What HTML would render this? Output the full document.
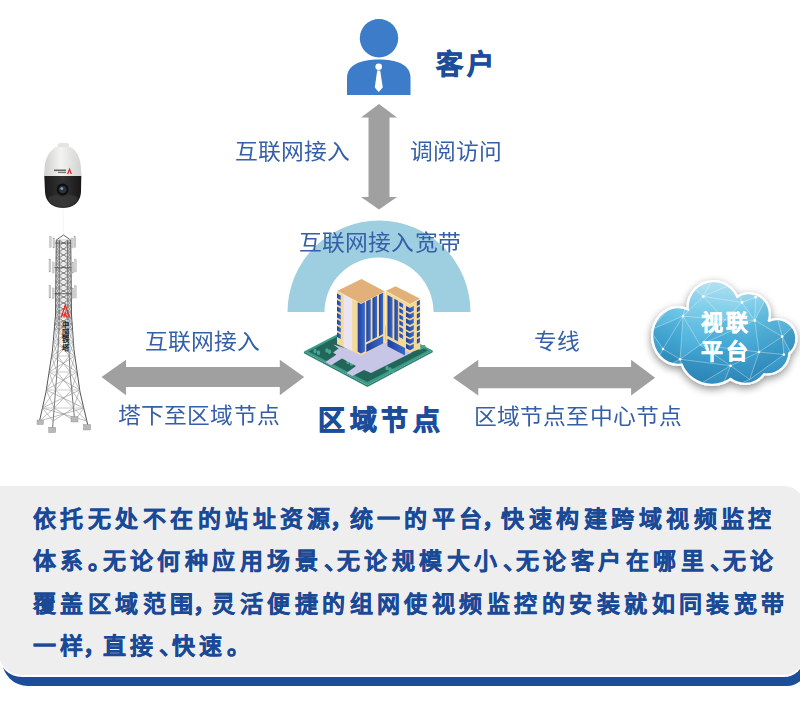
<!DOCTYPE html>
<html lang="zh-CN"><head><meta charset="utf-8">
<style>
html,body{margin:0;padding:0;background:#fff;}
body{width:800px;height:701px;position:relative;overflow:hidden;font-family:"Liberation Sans",sans-serif;}
.t{position:absolute;white-space:nowrap;line-height:1;}
.lt{font-size:21.5px;font-weight:300;color:#3560a9;letter-spacing:-0.2px;transform:scaleX(1.06);transform-origin:0 0;}
svg{position:absolute;left:0;top:0;}
.box{position:absolute;}
.p{letter-spacing:-8.4px;}
.c{letter-spacing:-3.9px;margin-left:-4.5px;}
.d{letter-spacing:-9.9px;margin-left:1.5px;}
.bt{position:absolute;left:33px;font-size:23px;font-weight:900;color:#1a4996;letter-spacing:4.45px;-webkit-text-stroke:0.35px #1a4996;line-height:1;white-space:nowrap;}
</style></head><body>

<!-- bottom box -->
<div class="box" style="left:2px;top:560px;width:805px;height:125.8px;background:#1b4e98;border-radius:0 20px 20px 26px;"></div>
<div class="box" style="left:-2px;top:486px;width:806px;height:191.4px;background:#fff;border-radius:0 20px 20px 24px;"></div>
<div class="box" style="left:-2px;top:486px;width:806px;height:189px;background:#eeeeef;border-radius:0 20px 20px 24px;"></div>

<svg width="800" height="701" viewBox="0 0 800 701">
  <!-- person -->
  <circle cx="379" cy="38.2" r="19.2" fill="#3d7cc8"/>
  <path d="M347,95 L347,78 C347,64 362,59.5 379,59.5 C396,59.5 410.5,64 410.5,78 L410.5,95 Z" fill="#3d7cc8"/>
  <circle cx="378.7" cy="66.8" r="3.3" fill="#fff"/>
  <path d="M377.2,70.5 L380.2,70.5 L382.8,87.5 L378.7,92 L374.8,87.5 Z" fill="#fff"/>

  <!-- vertical arrow -->
  <polygon points="379,104 397,117.5 389.5,117.5 389.5,197 397,197 379,209.5 361,197 368.5,197 368.5,117.5 361,117.5" fill="#a0a0a0"/>

  <!-- arc -->
  <path d="M287.5,312 A91.5,91.5 0 0 1 470.5,312 L433.5,312 A54.5,54.5 0 0 0 324.5,312 Z" fill="#9ecfe0"/>


  <!-- building plate -->
  <defs><linearGradient id="bs" x1="0" y1="0" x2="1" y2="0"><stop offset="0" stop-color="#1f3f9f"/><stop offset="1" stop-color="#3a6ccb"/></linearGradient></defs>
  <g id="bld">
  <polygon points="303.9,351.6 370,317.5 432.7,350.6 367.4,385.3" fill="#3c9b89"/>
  <polygon points="303.9,351.6 367.4,385.3 432.7,350.6 432.7,352.2 367.4,387 303.9,353.2" fill="#2f7f70"/>
  <polygon points="308.5,351.6 370,320 428,350.6 367.4,382" fill="#22665a"/>
  <!-- shrubs -->
  <g fill="#48a690"><ellipse cx="315.0" cy="351.0" rx="1.7" ry="2.2"/><ellipse cx="318.5" cy="352.8" rx="1.7" ry="2.2"/><ellipse cx="327.0" cy="350.5" rx="1.7" ry="2.2"/><ellipse cx="329.5" cy="351.8" rx="1.7" ry="2.2"/><ellipse cx="348.0" cy="362.0" rx="1.7" ry="2.2"/><ellipse cx="351.5" cy="363.8" rx="1.7" ry="2.2"/><ellipse cx="387.0" cy="368.0" rx="1.7" ry="2.2"/><ellipse cx="390.0" cy="369.5" rx="1.7" ry="2.2"/><ellipse cx="393.0" cy="371.0" rx="1.7" ry="2.2"/></g>
  <g fill="#48a690"><ellipse cx="420.0" cy="348.5" rx="1.5" ry="1.8"/><ellipse cx="422.0" cy="347.5" rx="1.5" ry="1.8"/><ellipse cx="424.0" cy="346.5" rx="1.5" ry="1.8"/></g>
  <!-- lavender walkway -->
  <polygon points="333.2,344.5 338.5,348.6 333.2,352.5 336.3,354.7 325.4,362.1 331,365.2 342,358.6 356,366 346.4,373 352.5,376.1 364,370 371,373 406,355.5 412,352.5 386,341 361,353" fill="#c8c6e6"/>
  <!-- building A -->
  <polygon points="337,291 361,304 361,355.5 337,344" fill="#f4d998"/>
  <polygon points="361,304 385,291.5 385,343 361,355.5" fill="#f4d998"/>
  <polygon points="337,291 361.5,279 385,291.5 361,304" fill="#e2b079"/>
  <polyline points="337,291 361,304 385,291.5" fill="none" stroke="#fbefb8" stroke-width="0.8"/>
  <!-- A left face: lavender panel -->
  <polygon points="343.6,294.5 352.2,299.2 352.2,351 343.6,347" fill="#ece5f1"/>
  <!-- A left windows -->
  <g fill="url(#bs)">
    <polygon points="337,293.5 340.8,295.5 340.8,300 337,298"/>
    <polygon points="337,300 340.8,302 340.8,306.5 337,304.5"/>
    <polygon points="337,306.5 340.8,308.5 340.8,313 337,311"/>
    <polygon points="337,313 340.8,315 340.8,319.5 337,317.5"/>
    <polygon points="337,319.5 340.8,321.5 340.8,326 337,324"/>
    <polygon points="337,326 340.8,328 340.8,332.5 337,330.5"/>
    <polygon points="337,332.5 340.8,334.5 340.8,339 337,337"/>
  </g>
  <!-- A corner blue column -->
  <polygon points="357.7,302.2 361,304 364.9,302 364.9,351.5 361,353.5 357.7,351.8" fill="url(#bs)"/>
  <!-- A right face stripes -->
  <g fill="url(#bs)">
    <polygon points="366.3,301.2 370.7,299 370.7,340 366.3,342.2"/>
    <polygon points="372.5,298 377,295.8 377,337 372.5,339.2"/>
    <polygon points="379,294.8 383.1,292.6 383.1,334 379,336.2"/>
    <polygon points="366.3,344.5 383.1,336 383.1,343.5 366.3,352"/>
  </g>
  <!-- building B -->
  <polygon points="385.6,291 410,304.4 410,352.8 385.6,341.5" fill="#f4d998"/>
  <polygon points="410,304.4 420.3,298.8 420.3,348.8 410,352.8" fill="#f4d998"/>
  <polygon points="385.6,291 395.6,286.2 420.3,298.8 410,304.4" fill="#e2b079"/>
  <polyline points="385.6,291 410,304.4 420.3,298.8" fill="none" stroke="#fbefb8" stroke-width="0.8"/>
  <line x1="385.3" y1="291" x2="385.3" y2="343" stroke="#fbefb8" stroke-width="0.8"/>
  <g fill="url(#bs)">
    <polygon points="387.5,295 392.5,297.7 392.5,338.5 387.5,335.8"/>
    <polygon points="394.4,298.7 398.1,300.7 398.1,341.5 394.4,339.5"/>
    <polygon points="387.5,338.8 405,348 405,355.5 387.5,346.3"/>
  </g>
  <g fill="url(#bs)">
    <polygon points="399.4,302 403.1,304 403.1,308 399.4,306"/>
    <polygon points="399.4,308.2 403.1,310.2 403.1,314.2 399.4,312.2"/>
    <polygon points="399.4,314.4 403.1,316.4 403.1,320.4 399.4,318.4"/>
    <polygon points="399.4,320.6 403.1,322.6 403.1,326.6 399.4,324.6"/>
    <polygon points="399.4,326.8 403.1,328.8 403.1,332.8 399.4,330.8"/>
    <polygon points="399.4,333 403.1,335 403.1,339 399.4,337"/>
    <polygon points="406,306 410,308 413.8,306 413.8,310.5 410,312.5 406,310.5"/>
    <polygon points="406,312.3 410,314.3 413.8,312.3 413.8,316.8 410,318.8 406,316.8"/>
    <polygon points="406,318.6 410,320.6 413.8,318.6 413.8,323.1 410,325.1 406,323.1"/>
    <polygon points="406,324.9 410,326.9 413.8,324.9 413.8,329.4 410,331.4 406,329.4"/>
    <polygon points="406,331.2 410,333.2 413.8,331.2 413.8,335.7 410,337.7 406,335.7"/>
    <polygon points="406,337.5 410,339.5 413.8,337.5 413.8,342 410,344 406,342"/>
    <polygon points="406,343.8 410,345.8 413.8,343.8 413.8,348.3 410,350.3 406,348.3"/>
    <polygon points="416.9,301.5 420,300 420,304.5 416.9,306"/>
    <polygon points="416.9,307.8 420,306.3 420,310.8 416.9,312.3"/>
    <polygon points="416.9,314.1 420,312.6 420,317.1 416.9,318.6"/>
    <polygon points="416.9,320.4 420,318.9 420,323.4 416.9,324.9"/>
    <polygon points="416.9,326.7 420,325.2 420,329.7 416.9,331.2"/>
    <polygon points="416.9,333 420,331.5 420,336 416.9,337.5"/>
    <polygon points="416.9,339.3 420,337.8 420,342.3 416.9,343.8"/>
  </g>
  </g>

  <!-- cloud -->
  <defs>
    <linearGradient id="cg" gradientUnits="userSpaceOnUse" x1="725" y1="280" x2="715" y2="388">
      <stop offset="0" stop-color="#acdef0"/>
      <stop offset="0.3" stop-color="#6cc7e7"/>
      <stop offset="0.6" stop-color="#48afdc"/>
      <stop offset="1" stop-color="#3390c0"/>
    </linearGradient>
    <radialGradient id="cg2" gradientUnits="userSpaceOnUse" cx="715" cy="320" r="90">
      <stop offset="0.4" stop-color="#0a4f80" stop-opacity="0"/>
      <stop offset="1" stop-color="#0a4f80" stop-opacity="0.2"/>
    </radialGradient>
    <filter id="sh" x="-20%" y="-20%" width="140%" height="140%">
      <feGaussianBlur in="SourceAlpha" stdDeviation="4"/>
      <feOffset dx="0" dy="3"/>
      <feComponentTransfer><feFuncA type="linear" slope="0.45"/></feComponentTransfer>
      <feMerge><feMergeNode/><feMergeNode in="SourceGraphic"/></feMerge>
    </filter>
    <clipPath id="cclip">
      <ellipse cx="678" cy="336" rx="24.7" ry="27.7"/>
      <circle cx="713.5" cy="307" r="24.7"/>
      <circle cx="749" cy="314" r="19.7"/>
      <circle cx="777" cy="338.5" r="18.2"/>
      <circle cx="767" cy="352" r="21.2"/>
      <circle cx="745" cy="360" r="22.7"/>
      <circle cx="712" cy="352" r="31.7"/>
      
      <circle cx="730" cy="330" r="27.7"/><circle cx="760" cy="330" r="11.7"/>
    </clipPath>
  </defs>
  <g filter="url(#sh)">
    <g fill="#fff">
      <ellipse cx="678" cy="336" rx="27" ry="30"/>
      <circle cx="713.5" cy="307" r="27"/>
      <circle cx="749" cy="314" r="22"/>
      <circle cx="777" cy="338.5" r="20.5"/>
      <circle cx="767" cy="352" r="23.5"/>
      <circle cx="745" cy="360" r="25"/>
      <circle cx="712" cy="352" r="34"/>
      
      <circle cx="730" cy="330" r="30"/><circle cx="760" cy="330" r="14"/>
    </g>
  </g>
  <g clip-path="url(#cclip)">
    <rect x="640" y="270" width="170" height="130" fill="url(#cg)"/>
    <rect x="640" y="270" width="170" height="130" fill="url(#cg2)"/>
    <polygon points="703.2,296.4 683,316.1 725,320" fill="#ffffff" fill-opacity="0.1"/>
    <polygon points="683,316.1 663,349 680.1,359.25" fill="#0e5f8f" fill-opacity="0.12"/>
    <polygon points="683,316.1 680.1,359.25 700,345" fill="#ffffff" fill-opacity="0.05"/>
    <polygon points="683,316.1 725,320 700,345" fill="#ffffff" fill-opacity="0.07"/>
    <polygon points="703.2,296.4 742,302.4 725,320" fill="#ffffff" fill-opacity="0.12"/>
    <polygon points="742,302.4 754.8,320.4 725,320" fill="#ffffff" fill-opacity="0.06"/>
    <polygon points="725,320 754.8,320.4 700,345" fill="#0e5f8f" fill-opacity="0.04"/>
    <polygon points="700,345 754.8,320.4 759,352" fill="#0e5f8f" fill-opacity="0.08"/>
    <polygon points="700,345 759,352 730.6,365.75" fill="#0e5f8f" fill-opacity="0.12"/>
    <polygon points="680.1,359.25 700,345 730.6,365.75" fill="#0e5f8f" fill-opacity="0.1"/>
    <polygon points="663,349 650,330 683,316.1" fill="#0e5f8f" fill-opacity="0.1"/>
    <polygon points="663,349 650,375 680.1,359.25" fill="#0e5f8f" fill-opacity="0.22"/>
    <polygon points="680.1,359.25 690,390 730.6,365.75" fill="#0e5f8f" fill-opacity="0.16"/>
    <polygon points="730.6,365.75 749.7,379.45 720,392" fill="#0e5f8f" fill-opacity="0.14"/>
    <polygon points="730.6,365.75 759,352 749.7,379.45" fill="#0e5f8f" fill-opacity="0.08"/>
    <polygon points="759,352 783.9,354.6 749.7,379.45" fill="#0e5f8f" fill-opacity="0.18"/>
    <polygon points="754.8,320.4 782.2,336.6 759,352" fill="#0e5f8f" fill-opacity="0.12"/>
    <polygon points="782.2,336.6 783.9,354.6 759,352" fill="#0e5f8f" fill-opacity="0.16"/>
    <polygon points="782.2,336.6 800,320 800,370" fill="#0e5f8f" fill-opacity="0.2"/>
    <polygon points="755.65,297.25 770,290 754.8,320.4" fill="#ffffff" fill-opacity="0.05"/>
    <polygon points="754.8,320.4 770,290 782.2,336.6" fill="#0e5f8f" fill-opacity="0.08"/>
    <polygon points="703.2,296.4 713,279 690,285" fill="#ffffff" fill-opacity="0.18"/>
    <polygon points="703.2,296.4 713,279 735,283" fill="#ffffff" fill-opacity="0.15"/>
    <polygon points="703.2,296.4 735,283 742,302.4" fill="#ffffff" fill-opacity="0.1"/>
    <polygon points="742,302.4 735,283 755.65,297.25" fill="#ffffff" fill-opacity="0.08"/>
    <polygon points="690,285 683,316.1 703.2,296.4" fill="#ffffff" fill-opacity="0.08"/>
    <polygon points="683,316.1 650,330 690,285" fill="#ffffff" fill-opacity="0.03"/>
    <g stroke="#ffffff" stroke-opacity="0.5" stroke-width="0.7">
      <line x1="703.2" y1="296.4" x2="683" y2="316.1"/>
      <line x1="703.2" y1="296.4" x2="742" y2="302.4"/>
      <line x1="703.2" y1="296.4" x2="713" y2="279"/>
      <line x1="703.2" y1="296.4" x2="690" y2="285"/>
      <line x1="703.2" y1="296.4" x2="725" y2="320"/>
      <line x1="703.2" y1="296.4" x2="735" y2="283"/>
      <line x1="683" y1="316.1" x2="663" y2="349"/>
      <line x1="683" y1="316.1" x2="680.1" y2="359.25"/>
      <line x1="683" y1="316.1" x2="690" y2="285"/>
      <line x1="683" y1="316.1" x2="650" y2="330"/>
      <line x1="683" y1="316.1" x2="700" y2="345"/>
      <line x1="683" y1="316.1" x2="725" y2="320"/>
      <line x1="663" y1="349" x2="680.1" y2="359.25"/>
      <line x1="663" y1="349" x2="650" y2="330"/>
      <line x1="663" y1="349" x2="650" y2="375"/>
      <line x1="680.1" y1="359.25" x2="730.6" y2="365.75"/>
      <line x1="680.1" y1="359.25" x2="700" y2="345"/>
      <line x1="680.1" y1="359.25" x2="690" y2="390"/>
      <line x1="680.1" y1="359.25" x2="650" y2="375"/>
      <line x1="730.6" y1="365.75" x2="759" y2="352"/>
      <line x1="730.6" y1="365.75" x2="749.7" y2="379.45"/>
      <line x1="730.6" y1="365.75" x2="700" y2="345"/>
      <line x1="730.6" y1="365.75" x2="690" y2="390"/>
      <line x1="730.6" y1="365.75" x2="720" y2="392"/>
      <line x1="742" y1="302.4" x2="755.65" y2="297.25"/>
      <line x1="742" y1="302.4" x2="754.8" y2="320.4"/>
      <line x1="742" y1="302.4" x2="725" y2="320"/>
      <line x1="742" y1="302.4" x2="735" y2="283"/>
      <line x1="755.65" y1="297.25" x2="754.8" y2="320.4"/>
      <line x1="755.65" y1="297.25" x2="735" y2="283"/>
      <line x1="755.65" y1="297.25" x2="770" y2="290"/>
      <line x1="754.8" y1="320.4" x2="782.2" y2="336.6"/>
      <line x1="754.8" y1="320.4" x2="759" y2="352"/>
      <line x1="754.8" y1="320.4" x2="700" y2="345"/>
      <line x1="754.8" y1="320.4" x2="725" y2="320"/>
      <line x1="754.8" y1="320.4" x2="770" y2="290"/>
      <line x1="782.2" y1="336.6" x2="759" y2="352"/>
      <line x1="782.2" y1="336.6" x2="783.9" y2="354.6"/>
      <line x1="782.2" y1="336.6" x2="800" y2="320"/>
      <line x1="782.2" y1="336.6" x2="770" y2="290"/>
      <line x1="782.2" y1="336.6" x2="800" y2="370"/>
      <line x1="759" y1="352" x2="783.9" y2="354.6"/>
      <line x1="759" y1="352" x2="749.7" y2="379.45"/>
      <line x1="759" y1="352" x2="700" y2="345"/>
      <line x1="783.9" y1="354.6" x2="749.7" y2="379.45"/>
      <line x1="749.7" y1="379.45" x2="720" y2="392"/>
      <line x1="713" y1="279" x2="690" y2="285"/>
      <line x1="713" y1="279" x2="735" y2="283"/>
      <line x1="690" y1="285" x2="650" y2="330"/>
      <line x1="700" y1="345" x2="725" y2="320"/>
      <line x1="800" y1="320" x2="800" y2="370"/>
    </g>
    <g fill="#fff">
      <circle cx="703.2" cy="296.4" r="1.3"/>
      <circle cx="683" cy="316.1" r="1.3"/>
      <circle cx="663" cy="349" r="1.3"/>
      <circle cx="680.1" cy="359.25" r="1.3"/>
      <circle cx="730.6" cy="365.75" r="1.3"/>
      <circle cx="742" cy="302.4" r="1.3"/>
      <circle cx="755.65" cy="297.25" r="1.3"/>
      <circle cx="754.8" cy="320.4" r="1.3"/>
      <circle cx="782.2" cy="336.6" r="1.3"/>
      <circle cx="759" cy="352" r="1.3"/>
      <circle cx="783.9" cy="354.6" r="1.3"/>
    </g>
  </g>
  <!-- camera -->
  <defs>
    <linearGradient id="dome" x1="0" y1="0" x2="1" y2="0">
      <stop offset="0" stop-color="#cfcfcd"/>
      <stop offset="0.45" stop-color="#f3f3f1"/>
      <stop offset="1" stop-color="#d2d2d0"/>
    </linearGradient>
    <linearGradient id="blk" x1="0" y1="0" x2="1" y2="0">
      <stop offset="0" stop-color="#1b1b1b"/>
      <stop offset="0.5" stop-color="#333"/>
      <stop offset="1" stop-color="#181818"/>
    </linearGradient>
  </defs>
  <path d="M57.5,147.5 L57.5,145 Q58,143 61,143 L66,143 Q69,143 69,145 L69,147.5 Z" fill="#e4e4e2"/>
  <path d="M56,147 L70.5,147 C75.5,149.5 80,157 80.8,166 L81.5,176.3 L44,176.3 L44.7,166 C45.5,157 51,149.5 56,147 Z" fill="url(#dome)"/>
  <path d="M44.3,176 L81.3,176 L81,192 C80.5,200 76,205 70,207 Q63,209 56,207 C50,205 45.5,200 45,192 Z" fill="url(#blk)"/>
  <path d="M48,198 C52,193 74,193 78,198 C77,203 72,206 63,206.5 C54,206 49,203 48,198 Z" fill="#3a3a3a" opacity="0.7"/>
  <circle cx="62.6" cy="189.5" r="7.5" fill="#2e2e2e"/>
  <circle cx="62.6" cy="189.5" r="6" fill="#0e0e0e"/>
  <circle cx="62.6" cy="189.5" r="3.8" fill="#2a3440"/>
  <circle cx="61.8" cy="188.6" r="1.4" fill="#8aa"/>
  <rect x="54" y="169.5" width="12" height="1.6" fill="#666"/>
  <rect x="58" y="171.8" width="8" height="1.3" fill="#777"/>
  <path d="M67,174 L69.5,167.5 L72,174 L70.6,174 L69.5,171 L68.4,174 Z" fill="#d83030"/>
  <line x1="63" y1="208" x2="63.5" y2="235" stroke="#efefef" stroke-width="0.6"/>
  <!-- tower -->
  <g id="tower">
<path d="M56.3,240.0 L55.5,315.0 L52.5,350.0 L46.0,392.0 L39.5,421.0" stroke="#555" stroke-width="1" fill="none" stroke-linejoin="round"/>
<path d="M70.7,240.0 L71.5,315.0 L74.0,350.0 L80.0,392.0 L88.0,426.0" stroke="#555" stroke-width="1" fill="none" stroke-linejoin="round"/>
<path d="M59.5,240.0 L59.0,330.0 L57.0,372.0 L52.5,429.0" stroke="#777" stroke-width="1" fill="none" stroke-linejoin="round"/>
<path d="M67.5,240.0 L68.0,330.0 L70.0,372.0 L74.5,419.0" stroke="#777" stroke-width="1" fill="none" stroke-linejoin="round"/>
<path d="M56.3,240 L63.5,235 L70.7,240" stroke="#555" stroke-width="0.9" fill="none"/>
<path d="M56.3,240 L70.8,246 M70.7,240 L56.2,246" stroke="#6a6a6a" stroke-width="0.6" fill="none"/>
<path d="M59.5,240 L67.5,246 M67.5,240 L59.5,246" stroke="#6a6a6a" stroke-width="0.6" fill="none"/>
<path d="M56.3,240 L59.5,246 M59.5,240 L56.2,246" stroke="#6a6a6a" stroke-width="0.6" fill="none"/>
<path d="M67.5,240 L70.8,246 M70.7,240 L67.5,246" stroke="#6a6a6a" stroke-width="0.6" fill="none"/>
<path d="M56.3,240 L70.7,240" stroke="#999" stroke-width="0.5"/>
<path d="M56.2,246 L70.8,252 M70.8,246 L56.2,252" stroke="#6a6a6a" stroke-width="0.6" fill="none"/>
<path d="M59.5,246 L67.6,252 M67.5,246 L59.4,252" stroke="#6a6a6a" stroke-width="0.6" fill="none"/>
<path d="M56.2,246 L59.4,252 M59.5,246 L56.2,252" stroke="#6a6a6a" stroke-width="0.6" fill="none"/>
<path d="M67.5,246 L70.8,252 M70.8,246 L67.6,252" stroke="#6a6a6a" stroke-width="0.6" fill="none"/>
<path d="M56.2,246 L70.8,246" stroke="#999" stroke-width="0.5"/>
<path d="M56.2,252 L70.9,258 M70.8,252 L56.1,258" stroke="#6a6a6a" stroke-width="0.6" fill="none"/>
<path d="M59.4,252 L67.6,258 M67.6,252 L59.4,258" stroke="#6a6a6a" stroke-width="0.6" fill="none"/>
<path d="M56.2,252 L59.4,258 M59.4,252 L56.1,258" stroke="#6a6a6a" stroke-width="0.6" fill="none"/>
<path d="M67.6,252 L70.9,258 M70.8,252 L67.6,258" stroke="#6a6a6a" stroke-width="0.6" fill="none"/>
<path d="M56.2,252 L70.8,252" stroke="#999" stroke-width="0.5"/>
<path d="M56.1,258 L71.0,264 M70.9,258 L56.0,264" stroke="#6a6a6a" stroke-width="0.6" fill="none"/>
<path d="M59.4,258 L67.6,264 M67.6,258 L59.4,264" stroke="#6a6a6a" stroke-width="0.6" fill="none"/>
<path d="M56.1,258 L59.4,264 M59.4,258 L56.0,264" stroke="#6a6a6a" stroke-width="0.6" fill="none"/>
<path d="M67.6,258 L71.0,264 M70.9,258 L67.6,264" stroke="#6a6a6a" stroke-width="0.6" fill="none"/>
<path d="M56.1,258 L70.9,258" stroke="#999" stroke-width="0.5"/>
<path d="M56.0,264 L71.0,270 M71.0,264 L56.0,270" stroke="#6a6a6a" stroke-width="0.6" fill="none"/>
<path d="M59.4,264 L67.7,270 M67.6,264 L59.3,270" stroke="#6a6a6a" stroke-width="0.6" fill="none"/>
<path d="M56.0,264 L59.3,270 M59.4,264 L56.0,270" stroke="#6a6a6a" stroke-width="0.6" fill="none"/>
<path d="M67.6,264 L71.0,270 M71.0,264 L67.7,270" stroke="#6a6a6a" stroke-width="0.6" fill="none"/>
<path d="M56.0,264 L71.0,264" stroke="#999" stroke-width="0.5"/>
<path d="M56.0,270 L71.1,276 M71.0,270 L55.9,276" stroke="#6a6a6a" stroke-width="0.6" fill="none"/>
<path d="M59.3,270 L67.7,276 M67.7,270 L59.3,276" stroke="#6a6a6a" stroke-width="0.6" fill="none"/>
<path d="M56.0,270 L59.3,276 M59.3,270 L55.9,276" stroke="#6a6a6a" stroke-width="0.6" fill="none"/>
<path d="M67.7,270 L71.1,276 M71.0,270 L67.7,276" stroke="#6a6a6a" stroke-width="0.6" fill="none"/>
<path d="M56.0,270 L71.0,270" stroke="#999" stroke-width="0.5"/>
<path d="M55.9,276 L71.1,282 M71.1,276 L55.9,282" stroke="#6a6a6a" stroke-width="0.6" fill="none"/>
<path d="M59.3,276 L67.7,282 M67.7,276 L59.3,282" stroke="#6a6a6a" stroke-width="0.6" fill="none"/>
<path d="M55.9,276 L59.3,282 M59.3,276 L55.9,282" stroke="#6a6a6a" stroke-width="0.6" fill="none"/>
<path d="M67.7,276 L71.1,282 M71.1,276 L67.7,282" stroke="#6a6a6a" stroke-width="0.6" fill="none"/>
<path d="M55.9,276 L71.1,276" stroke="#999" stroke-width="0.5"/>
<path d="M55.9,282 L71.2,288 M71.1,282 L55.8,288" stroke="#6a6a6a" stroke-width="0.6" fill="none"/>
<path d="M59.3,282 L67.8,288 M67.7,282 L59.2,288" stroke="#6a6a6a" stroke-width="0.6" fill="none"/>
<path d="M55.9,282 L59.2,288 M59.3,282 L55.8,288" stroke="#6a6a6a" stroke-width="0.6" fill="none"/>
<path d="M67.7,282 L71.2,288 M71.1,282 L67.8,288" stroke="#6a6a6a" stroke-width="0.6" fill="none"/>
<path d="M55.9,282 L71.1,282" stroke="#999" stroke-width="0.5"/>
<path d="M55.8,288 L71.3,294 M71.2,288 L55.7,294" stroke="#6a6a6a" stroke-width="0.6" fill="none"/>
<path d="M59.2,288 L67.8,294 M67.8,288 L59.2,294" stroke="#6a6a6a" stroke-width="0.6" fill="none"/>
<path d="M55.8,288 L59.2,294 M59.2,288 L55.7,294" stroke="#6a6a6a" stroke-width="0.6" fill="none"/>
<path d="M67.8,288 L71.3,294 M71.2,288 L67.8,294" stroke="#6a6a6a" stroke-width="0.6" fill="none"/>
<path d="M55.8,288 L71.2,288" stroke="#999" stroke-width="0.5"/>
<path d="M55.7,294 L71.3,300 M71.3,294 L55.7,300" stroke="#6a6a6a" stroke-width="0.6" fill="none"/>
<path d="M59.2,294 L67.8,300 M67.8,294 L59.2,300" stroke="#6a6a6a" stroke-width="0.6" fill="none"/>
<path d="M55.7,294 L59.2,300 M59.2,294 L55.7,300" stroke="#6a6a6a" stroke-width="0.6" fill="none"/>
<path d="M67.8,294 L71.3,300 M71.3,294 L67.8,300" stroke="#6a6a6a" stroke-width="0.6" fill="none"/>
<path d="M55.7,294 L71.3,294" stroke="#999" stroke-width="0.5"/>
<path d="M55.7,300 L71.4,306 M71.3,300 L55.6,306" stroke="#6a6a6a" stroke-width="0.6" fill="none"/>
<path d="M59.2,300 L67.9,306 M67.8,300 L59.1,306" stroke="#6a6a6a" stroke-width="0.6" fill="none"/>
<path d="M55.7,300 L59.1,306 M59.2,300 L55.6,306" stroke="#6a6a6a" stroke-width="0.6" fill="none"/>
<path d="M67.8,300 L71.4,306 M71.3,300 L67.9,306" stroke="#6a6a6a" stroke-width="0.6" fill="none"/>
<path d="M55.7,300 L71.3,300" stroke="#999" stroke-width="0.5"/>
<path d="M55.6,306 L71.5,312 M71.4,306 L55.5,312" stroke="#6a6a6a" stroke-width="0.6" fill="none"/>
<path d="M59.1,306 L67.9,312 M67.9,306 L59.1,312" stroke="#6a6a6a" stroke-width="0.6" fill="none"/>
<path d="M55.6,306 L59.1,312 M59.1,306 L55.5,312" stroke="#6a6a6a" stroke-width="0.6" fill="none"/>
<path d="M67.9,306 L71.5,312 M71.4,306 L67.9,312" stroke="#6a6a6a" stroke-width="0.6" fill="none"/>
<path d="M55.6,306 L71.4,306" stroke="#999" stroke-width="0.5"/>
<path d="M55.5,312 L71.7,318 M71.5,312 L55.2,318" stroke="#6a6a6a" stroke-width="0.6" fill="none"/>
<path d="M59.1,312 L67.9,318 M67.9,312 L59.1,318" stroke="#6a6a6a" stroke-width="0.6" fill="none"/>
<path d="M55.5,312 L59.1,318 M59.1,312 L55.2,318" stroke="#6a6a6a" stroke-width="0.6" fill="none"/>
<path d="M67.9,312 L71.7,318 M71.5,312 L67.9,318" stroke="#6a6a6a" stroke-width="0.6" fill="none"/>
<path d="M55.5,312 L71.5,312" stroke="#999" stroke-width="0.5"/>
<path d="M55.2,318 L72.1,324 M71.7,318 L54.7,324" stroke="#6a6a6a" stroke-width="0.6" fill="none"/>
<path d="M59.1,318 L68.0,324 M67.9,318 L59.0,324" stroke="#6a6a6a" stroke-width="0.6" fill="none"/>
<path d="M55.2,318 L59.0,324 M59.1,318 L54.7,324" stroke="#6a6a6a" stroke-width="0.6" fill="none"/>
<path d="M67.9,318 L72.1,324 M71.7,318 L68.0,324" stroke="#6a6a6a" stroke-width="0.6" fill="none"/>
<path d="M55.2,318 L71.7,318" stroke="#999" stroke-width="0.5"/>
<path d="M54.7,324 L72.6,330 M72.1,324 L54.2,330" stroke="#6a6a6a" stroke-width="0.6" fill="none"/>
<path d="M59.0,324 L68.0,330 M68.0,324 L59.0,330" stroke="#6a6a6a" stroke-width="0.6" fill="none"/>
<path d="M54.7,324 L59.0,330 M59.0,324 L54.2,330" stroke="#6a6a6a" stroke-width="0.6" fill="none"/>
<path d="M68.0,324 L72.6,330 M72.1,324 L68.0,330" stroke="#6a6a6a" stroke-width="0.6" fill="none"/>
<path d="M54.7,324 L72.1,324" stroke="#999" stroke-width="0.5"/>
<path d="M54.2,330 L73.4,342 M72.6,330 L53.2,342" stroke="#8a8a8a" stroke-width="0.55" fill="none"/>
<path d="M59.0,330 L68.6,342 M68.0,330 L58.4,342" stroke="#8a8a8a" stroke-width="0.55" fill="none"/>
<path d="M54.2,330 L58.4,342 M59.0,330 L53.2,342" stroke="#8a8a8a" stroke-width="0.55" fill="none"/>
<path d="M68.0,330 L73.4,342 M72.6,330 L68.6,342" stroke="#8a8a8a" stroke-width="0.55" fill="none"/>
<path d="M54.2,330 L72.6,330" stroke="#999" stroke-width="0.5"/>
<path d="M53.2,342 L74.9,356 M73.4,342 L51.6,356" stroke="#8a8a8a" stroke-width="0.55" fill="none"/>
<path d="M58.4,342 L69.2,356 M68.6,342 L57.8,356" stroke="#8a8a8a" stroke-width="0.55" fill="none"/>
<path d="M53.2,342 L57.8,356 M58.4,342 L51.6,356" stroke="#8a8a8a" stroke-width="0.55" fill="none"/>
<path d="M68.6,342 L74.9,356 M73.4,342 L69.2,356" stroke="#8a8a8a" stroke-width="0.55" fill="none"/>
<path d="M53.2,342 L73.4,342" stroke="#999" stroke-width="0.5"/>
<path d="M51.6,356 L77.1,372 M74.9,356 L49.1,372" stroke="#8a8a8a" stroke-width="0.55" fill="none"/>
<path d="M57.8,356 L70.0,372 M69.2,356 L57.0,372" stroke="#8a8a8a" stroke-width="0.55" fill="none"/>
<path d="M51.6,356 L57.0,372 M57.8,356 L49.1,372" stroke="#8a8a8a" stroke-width="0.55" fill="none"/>
<path d="M69.2,356 L77.1,372 M74.9,356 L70.0,372" stroke="#8a8a8a" stroke-width="0.55" fill="none"/>
<path d="M51.6,356 L74.9,356" stroke="#999" stroke-width="0.5"/>
<path d="M49.1,372 L79.7,390 M77.1,372 L46.3,390" stroke="#8a8a8a" stroke-width="0.55" fill="none"/>
<path d="M57.0,372 L71.7,390 M70.0,372 L55.6,390" stroke="#8a8a8a" stroke-width="0.55" fill="none"/>
<path d="M49.1,372 L55.6,390 M57.0,372 L46.3,390" stroke="#8a8a8a" stroke-width="0.55" fill="none"/>
<path d="M70.0,372 L79.7,390 M77.1,372 L71.7,390" stroke="#8a8a8a" stroke-width="0.55" fill="none"/>
<path d="M49.1,372 L77.1,372" stroke="#999" stroke-width="0.5"/>
<path d="M46.3,390 L83.8,408 M79.7,390 L42.4,408" stroke="#8a8a8a" stroke-width="0.55" fill="none"/>
<path d="M55.6,390 L73.4,408 M71.7,390 L54.2,408" stroke="#8a8a8a" stroke-width="0.55" fill="none"/>
<path d="M46.3,390 L54.2,408 M55.6,390 L42.4,408" stroke="#8a8a8a" stroke-width="0.55" fill="none"/>
<path d="M71.7,390 L83.8,408 M79.7,390 L73.4,408" stroke="#8a8a8a" stroke-width="0.55" fill="none"/>
<path d="M46.3,390 L79.7,390" stroke="#999" stroke-width="0.5"/>
<path d="M42.4,408 L86.8,421 M83.8,408 L39.5,421" stroke="#8a8a8a" stroke-width="0.55" fill="none"/>
<path d="M54.2,408 L74.5,421 M73.4,408 L53.1,421" stroke="#8a8a8a" stroke-width="0.55" fill="none"/>
<path d="M42.4,408 L53.1,421 M54.2,408 L39.5,421" stroke="#8a8a8a" stroke-width="0.55" fill="none"/>
<path d="M73.4,408 L86.8,421 M83.8,408 L74.5,421" stroke="#8a8a8a" stroke-width="0.55" fill="none"/>
<path d="M42.4,408 L83.8,408" stroke="#999" stroke-width="0.5"/>
  <g fill="#d0d0d0" stroke="#999" stroke-width="0.3">
    <rect x="49.5" y="236.5" width="1.8" height="11"/><rect x="74" y="236.5" width="1.8" height="11"/><rect x="53" y="238" width="1.6" height="10"/><rect x="71.5" y="238" width="1.6" height="10"/>
    <rect x="49" y="259" width="1.8" height="13"/><rect x="74.5" y="259" width="1.8" height="13"/><rect x="52.5" y="262" width="1.6" height="11"/><rect x="72" y="262" width="1.6" height="11"/>
    <rect x="49" y="285.5" width="1.8" height="12.5"/><rect x="74.5" y="285.5" width="1.8" height="12.5"/><rect x="52.5" y="288" width="1.6" height="10.5"/><rect x="72" y="288" width="1.6" height="10.5"/>
  </g>
  <g fill="#444">
    <rect x="55" y="242.5" width="16" height="1.2" opacity="0.6"/><rect x="54.5" y="267" width="17" height="1.3" opacity="0.6"/><rect x="54.5" y="293" width="17" height="1.3" opacity="0.6"/>
  </g>
  <path d="M61.3,317.5 L65.2,305 L69.5,317.5 M63.8,317.5 L65.2,312.5 L66.8,317.5" stroke="#e0302a" stroke-width="1.3" fill="none"/>
  <g fill="#1a1a1a" font-size="7.2" font-weight="900" style="font-family:'Liberation Sans',sans-serif">
    <text x="62.2" y="327">中</text><text x="62.2" y="334.6">国</text><text x="62.2" y="342.2">铁</text><text x="62.2" y="349.8">塔</text>
  </g>
  <g fill="#b8b8b8" stroke="#8a8a8a" stroke-width="0.4">
    <rect x="37" y="420" width="6.4" height="4.5"/>
    <rect x="48.7" y="427.2" width="7" height="5.4"/>
    <rect x="71" y="416.5" width="7" height="5.5"/>
    <rect x="83.4" y="424.5" width="7.2" height="5.5"/>
  </g>
  </g>
  <!-- horizontal arrows -->
  <polygon points="101.5,377 126,359.7 126,367 279.8,367 279.8,359.7 304.2,377 279.8,395.3 279.8,387 126,387 126,395.3" fill="#a0a0a0"/>
  <polygon points="453,377.8 478.3,359.7 478.3,367.1 631.1,367.1 631.1,359.7 655.1,377.8 631.1,395.4 631.1,388.2 478.3,388.2 478.3,395.4" fill="#a0a0a0"/>
</svg>

<!-- texts -->
<div class="t" style="left:436px;top:51.5px;font-size:27px;font-weight:900;color:#1b4d9b;letter-spacing:3.5px;-webkit-text-stroke:0.8px #1b4d9b;">客户</div>
<div class="t lt" style="left:235px;top:142px;">互联网接入</div>
<div class="t lt" style="left:409.5px;top:142px;">调阅访问</div>
<div class="t lt" style="left:299px;top:232.5px;">互联网接入宽带</div>
<div class="t lt" style="left:145px;top:331.5px;">互联网接入</div>
<div class="t lt" style="left:533.5px;top:331.5px;">专线</div>
<div class="t lt" style="left:118px;top:405.5px;">塔下至区域节点</div>
<div class="t lt" style="left:474px;top:406.5px;">区域节点至中心节点</div>
<div class="t" style="left:318px;top:407.5px;font-size:27px;font-weight:900;color:#1b4d9b;letter-spacing:4.6px;-webkit-text-stroke:0.9px #1b4d9b;">区域节点</div>

<div class="bt" style="top:507.5px;">依托无处不在的站址资源<span class="c">，</span>统一的平台<span class="c">，</span>快速构建跨域视频监控</div>
<div class="bt" style="top:550px;">体系<span class="p">。</span>无论何种应用场景<span class="d">、</span>无论规模大小<span class="d">、</span>无论客户在哪里<span class="d">、</span>无论</div>
<div class="bt" style="top:592.5px;">覆盖区域范围<span class="c">，</span>灵活便捷的组网使视频监控的安装就如同装宽带</div>
<div class="bt" style="top:635px;">一样<span class="c">，</span>直接<span class="d">、</span>快速<span class="p">。</span></div>

<div class="t" style="left:701px;top:312px;font-size:22px;font-weight:900;color:#fff;letter-spacing:2.7px;-webkit-text-stroke:0.5px #fff;">视联</div>
<div class="t" style="left:701px;top:341px;font-size:22px;font-weight:900;color:#fff;letter-spacing:2.7px;-webkit-text-stroke:0.5px #fff;">平台</div>
</body></html>
